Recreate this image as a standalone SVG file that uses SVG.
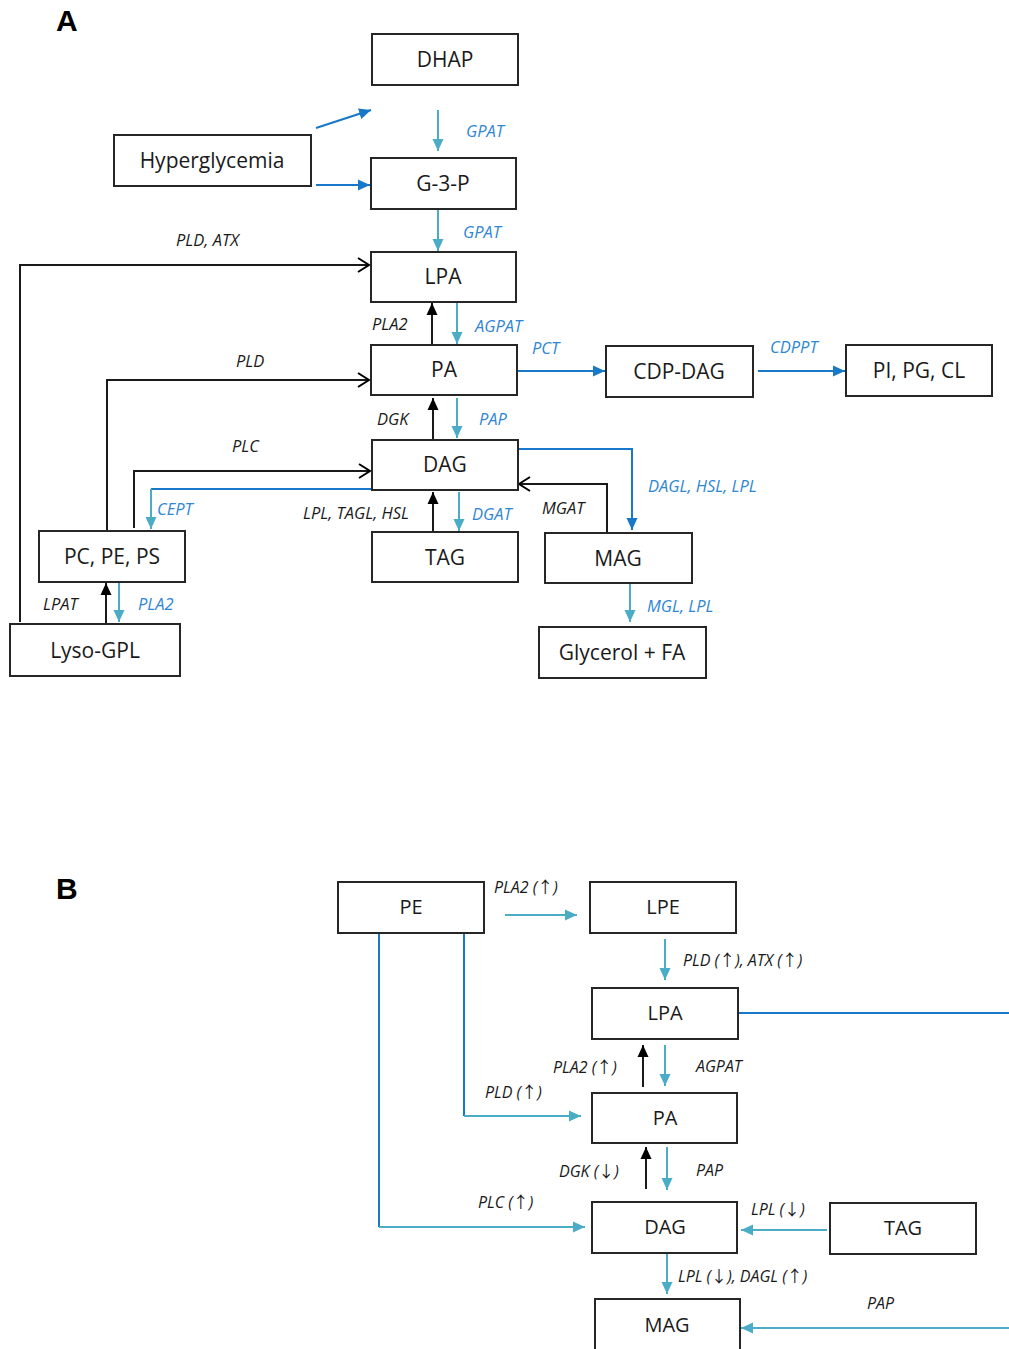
<svg xmlns="http://www.w3.org/2000/svg" width="1009" height="1349" viewBox="0 0 1009 1349">
<style>
.box{fill:#fff;stroke:#262626;stroke-width:2}
.bt{font-family:"Open Sans","Liberation Sans",sans-serif;font-size:21px;fill:#1a1a1a;text-anchor:middle}
.bt2{font-family:"Open Sans","Liberation Sans",sans-serif;font-size:20px;fill:#1a1a1a;text-anchor:middle}
.lb{font-family:"Open Sans","Liberation Sans",sans-serif;font-size:16.5px;font-style:italic;fill:#1a1a1a}
.lbb{font-family:"Open Sans","Liberation Sans",sans-serif;font-size:16.5px;font-style:italic;fill:#2e86d4}
.lbB{font-family:"Open Sans","Liberation Sans",sans-serif;font-size:16px;font-style:italic;fill:#1a1a1a}
.ar{font-family:"Noto Sans CJK SC","DejaVu Sans",sans-serif;font-style:normal;font-size:16px}
.panel{font-family:"Liberation Sans",sans-serif;font-size:30px;font-weight:bold;fill:#000}
.k{stroke:#1a1a1a;stroke-width:2;fill:none}
.c{stroke:#4bacc6;stroke-width:2;fill:none}
.d{stroke:#1777c8;stroke-width:2;fill:none}
</style>
<defs>
<marker id="mk" markerUnits="userSpaceOnUse" markerWidth="13" markerHeight="13" refX="12" refY="6.5" orient="auto"><path d="M0,1 L12,6.5 L0,12 z" fill="#000"/></marker>
<marker id="mc" markerUnits="userSpaceOnUse" markerWidth="13" markerHeight="13" refX="12" refY="6.5" orient="auto"><path d="M0,1 L12,6.5 L0,12 z" fill="#4bacc6"/></marker>
<marker id="md" markerUnits="userSpaceOnUse" markerWidth="13" markerHeight="13" refX="12" refY="6.5" orient="auto"><path d="M0,1 L12,6.5 L0,12 z" fill="#1777c8"/></marker>
<marker id="mo" markerUnits="userSpaceOnUse" markerWidth="14" markerHeight="16" refX="12" refY="8" orient="auto"><path d="M1,1 L12,8 L1,15" fill="none" stroke="#000" stroke-width="2"/></marker>
</defs>

<text class="panel" x="56" y="31">A</text>
<text class="panel" x="56" y="899">B</text>

<g id="connectors">
<!-- Panel A -->
<line class="d" x1="316" y1="128" x2="371" y2="110" marker-end="url(#md)"/>
<line class="d" x1="316" y1="185" x2="370" y2="185" marker-end="url(#md)"/>
<line class="c" x1="438" y1="110" x2="438" y2="151" marker-end="url(#mc)"/>
<line class="c" x1="438" y1="210" x2="438" y2="251" marker-end="url(#mc)"/>
<polyline class="k" points="20,622 20,265 369,265" marker-end="url(#mo)"/>
<line class="k" x1="432" y1="344" x2="432" y2="303" marker-end="url(#mk)"/>
<line class="c" x1="457" y1="303" x2="457" y2="344" marker-end="url(#mc)"/>
<line class="d" x1="517" y1="371" x2="605" y2="371" marker-end="url(#md)"/>
<line class="d" x1="758" y1="371" x2="845" y2="371" marker-end="url(#md)"/>
<polyline class="k" points="107,531 107,380 369,380" marker-end="url(#mo)"/>
<line class="k" x1="433" y1="439" x2="433" y2="398" marker-end="url(#mk)"/>
<line class="c" x1="457" y1="398" x2="457" y2="438" marker-end="url(#mc)"/>
<polyline class="k" points="134,528 134,471 370,471" marker-end="url(#mo)"/>
<line class="d" x1="372" y1="489" x2="151" y2="489"/>
<line class="c" x1="151" y1="489" x2="151" y2="529" marker-end="url(#mc)"/>
<line class="k" x1="433" y1="531" x2="433" y2="492" marker-end="url(#mk)"/>
<line class="c" x1="459" y1="492" x2="459" y2="531" marker-end="url(#mc)"/>
<polyline class="d" points="518,449 632,449 632,530" marker-end="url(#md)"/>
<polyline class="k" points="607,533 607,484 519,484" marker-end="url(#mo)"/>
<line class="c" x1="630" y1="583" x2="630" y2="622" marker-end="url(#mc)"/>
<line class="k" x1="106" y1="624" x2="106" y2="583" marker-end="url(#mk)"/>
<line class="c" x1="119" y1="583" x2="119" y2="622" marker-end="url(#mc)"/>
<!-- Panel B -->
<line class="c" x1="505" y1="915" x2="577" y2="915" marker-end="url(#mc)"/>
<line class="c" x1="665" y1="939" x2="665" y2="980" marker-end="url(#mc)"/>
<line class="d" x1="738" y1="1013" x2="1009" y2="1013"/>
<line class="k" x1="643" y1="1087" x2="643" y2="1045" marker-end="url(#mk)"/>
<line class="c" x1="665" y1="1045" x2="665" y2="1086" marker-end="url(#mc)"/>
<line class="d" x1="464" y1="933" x2="464" y2="1116"/>
<line class="c" x1="464" y1="1116" x2="581" y2="1116" marker-end="url(#mc)"/>
<line class="k" x1="646" y1="1189" x2="646" y2="1147" marker-end="url(#mk)"/>
<line class="c" x1="667" y1="1147" x2="667" y2="1190" marker-end="url(#mc)"/>
<line class="d" x1="379" y1="933" x2="379" y2="1227"/>
<line class="c" x1="379" y1="1227" x2="585" y2="1227" marker-end="url(#mc)"/>
<line class="c" x1="827" y1="1230" x2="741" y2="1230" marker-end="url(#mc)"/>
<line class="c" x1="667" y1="1253" x2="667" y2="1294" marker-end="url(#mc)"/>
<line class="c" x1="1009" y1="1328" x2="741" y2="1328" marker-end="url(#mc)"/>
</g>

<g id="labels">
<text class="lbb" x="466" y="137">GPAT</text>
<text class="lbb" x="463" y="238">GPAT</text>
<text class="lb" x="176" y="246">PLD, ATX</text>
<text class="lb" x="372" y="330">PLA2</text>
<text class="lbb" x="475" y="332">AGPAT</text>
<text class="lbb" x="532" y="354">PCT</text>
<text class="lbb" x="770" y="353">CDPPT</text>
<text class="lb" x="236" y="367">PLD</text>
<text class="lb" x="377" y="425">DGK</text>
<text class="lbb" x="479" y="425">PAP</text>
<text class="lb" x="232" y="452">PLC</text>
<text class="lbb" x="157" y="515">CEPT</text>
<text class="lb" x="303" y="519">LPL, TAGL, HSL</text>
<text class="lbb" x="472" y="520">DGAT</text>
<text class="lb" x="542" y="514">MGAT</text>
<text class="lbb" x="648" y="492">DAGL, HSL, LPL</text>
<text class="lbb" x="647" y="612">MGL, LPL</text>
<text class="lb" x="43" y="610">LPAT</text>
<text class="lbb" x="138" y="610">PLA2</text>

<text class="lbB" x="494" y="893">PLA2 (<tspan class="ar">↑</tspan>)</text>
<text class="lbB" x="683" y="966">PLD (<tspan class="ar">↑</tspan>), ATX (<tspan class="ar">↑</tspan>)</text>
<text class="lbB" x="553" y="1073">PLA2 (<tspan class="ar">↑</tspan>)</text>
<text class="lbB" x="696" y="1072">AGPAT</text>
<text class="lbB" x="485" y="1098">PLD (<tspan class="ar">↑</tspan>)</text>
<text class="lbB" x="559" y="1177">DGK (<tspan class="ar">↓</tspan>)</text>
<text class="lbB" x="696" y="1176">PAP</text>
<text class="lbB" x="478" y="1208">PLC (<tspan class="ar">↑</tspan>)</text>
<text class="lbB" x="751" y="1215">LPL (<tspan class="ar">↓</tspan>)</text>
<text class="lbB" x="678" y="1282">LPL (<tspan class="ar">↓</tspan>), DAGL (<tspan class="ar">↑</tspan>)</text>
<text class="lbB" x="867" y="1309">PAP</text>
</g>

<g id="nA_DHAP"><rect class="box" x="372" y="34" width="146" height="51"/><text class="bt" x="445" y="67">DHAP</text></g>
<g id="nA_Hyper"><rect class="box" x="114" y="135" width="197" height="51"/><text class="bt" x="212" y="168">Hyperglycemia</text></g>
<g id="nA_G3P"><rect class="box" x="371" y="158" width="145" height="51"/><text class="bt" x="443" y="191">G-3-P</text></g>
<g id="nA_LPA"><rect class="box" x="371" y="252" width="145" height="50"/><text class="bt" x="443" y="284">LPA</text></g>
<g id="nA_PA"><rect class="box" x="371" y="345" width="146" height="50"/><text class="bt" x="444" y="377">PA</text></g>
<g id="nA_CDPDAG"><rect class="box" x="606" y="346" width="147" height="51"/><text class="bt" x="679" y="379">CDP-DAG</text></g>
<g id="nA_PIPGCL"><rect class="box" x="846" y="345" width="146" height="51"/><text class="bt" x="919" y="378">PI, PG, CL</text></g>
<g id="nA_DAG"><rect class="box" x="372" y="440" width="146" height="50"/><text class="bt" x="445" y="472">DAG</text></g>
<g id="nA_TAG"><rect class="box" x="372" y="532" width="146" height="50"/><text class="bt" x="445" y="565">TAG</text></g>
<g id="nA_MAG"><rect class="box" x="545" y="533" width="147" height="50"/><text class="bt" x="618" y="566">MAG</text></g>
<g id="nA_Glycerol"><rect class="box" x="539" y="627" width="167" height="51"/><text class="bt" x="622" y="660">Glycerol + FA</text></g>
<g id="nA_PCPEPS"><rect class="box" x="39" y="531" width="146" height="51"/><text class="bt" x="112" y="564">PC, PE, PS</text></g>
<g id="nA_LysoGPL"><rect class="box" x="10" y="624" width="170" height="52"/><text class="bt" x="95" y="658">Lyso-GPL</text></g>

<g id="nB_PE"><rect class="box" x="338" y="882" width="146" height="51"/><text class="bt2" x="411" y="914">PE</text></g>
<g id="nB_LPE"><rect class="box" x="590" y="882" width="146" height="51"/><text class="bt2" x="663" y="914">LPE</text></g>
<g id="nB_LPA"><rect class="box" x="592" y="988" width="146" height="51"/><text class="bt2" x="665" y="1020">LPA</text></g>
<g id="nB_PA"><rect class="box" x="592" y="1093" width="145" height="50"/><text class="bt2" x="665" y="1125">PA</text></g>
<g id="nB_DAG"><rect class="box" x="592" y="1202" width="145" height="51"/><text class="bt2" x="665" y="1234">DAG</text></g>
<g id="nB_TAG"><rect class="box" x="830" y="1203" width="146" height="51"/><text class="bt2" x="903" y="1235">TAG</text></g>
<g id="nB_MAG"><rect class="box" x="595" y="1299" width="145" height="60"/><text class="bt2" x="667" y="1332">MAG</text></g>
</svg>
